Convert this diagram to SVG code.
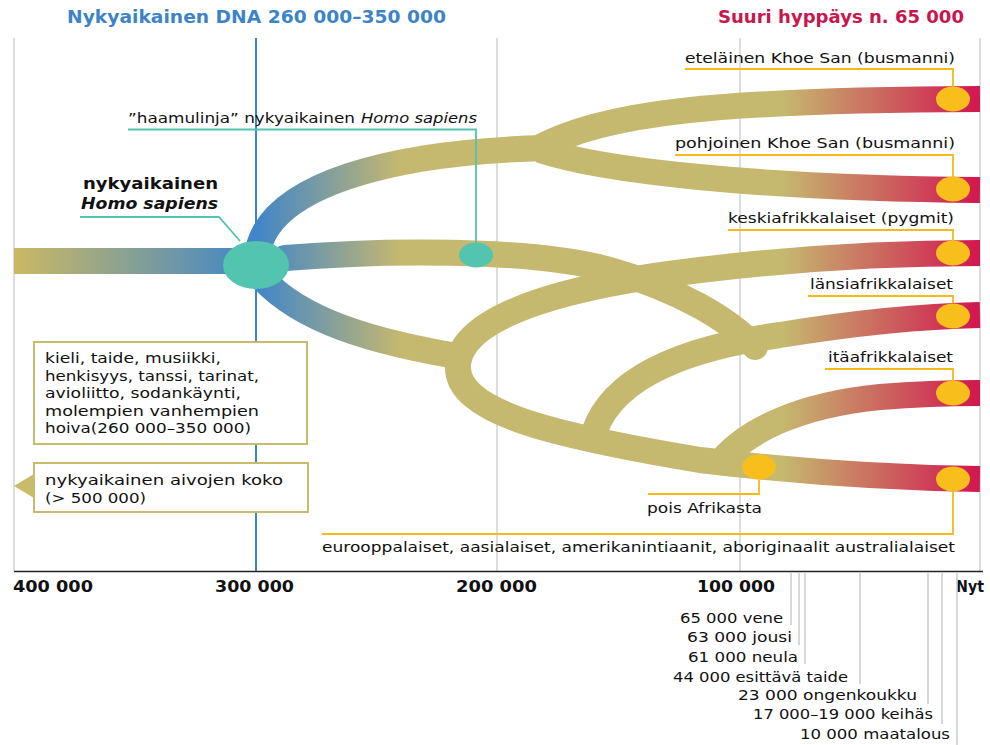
<svg xmlns="http://www.w3.org/2000/svg" width="990" height="745" viewBox="0 0 990 745">
<defs>
<linearGradient id="bandGrad" gradientUnits="userSpaceOnUse" x1="14" y1="0" x2="980" y2="0">
<stop offset="0" stop-color="#cbb963"/>
<stop offset="0.25" stop-color="#3f85c9"/>
<stop offset="0.40" stop-color="#c5b86f"/>
<stop offset="0.796" stop-color="#c5b86f"/>
<stop offset="0.995" stop-color="#d11a50"/>
<stop offset="1" stop-color="#d11a50"/>
</linearGradient>
<style>
.grid{stroke:#d2d2d2;stroke-width:1.5;fill:none}
.tick{stroke:#cbcbcb;stroke-width:1.5;fill:none}
.band{fill:none;stroke:url(#bandGrad);stroke-width:26}
.yl{fill:none;stroke:#f5b91c;stroke-width:1.8}
.tl{fill:none;stroke:#52c4b0;stroke-width:1.8}
.dot{fill:#f8bf1c}
.teal{fill:#52c4b0}
.box{fill:#ffffff;stroke:#c8bb6c;stroke-width:2}
text{font-family:"DejaVu Sans","Open Sans",sans-serif;fill:#111}
.lbl{font-size:14px}
.ax{font-size:15px;font-weight:bold}
.hd{font-size:17px;font-weight:bold}
.tk{font-size:14px}
</style>
</defs>

<g id="frame">
<line class="grid" x1="14" y1="38" x2="14" y2="571"/>
<line class="grid" x1="497" y1="38" x2="497" y2="571"/>
<line class="grid" x1="740" y1="38" x2="740" y2="571"/>
<line class="grid" x1="980" y1="38" x2="980" y2="571"/>
<line x1="256" y1="38" x2="256" y2="571" stroke="#3d84c6" stroke-width="2"/>
<line x1="14" y1="571.5" x2="983" y2="571.5" stroke="#222" stroke-width="1.6"/>
</g>

<g id="headers">
<text class="hd" x="67" y="23" style="fill:#3d84c6" textLength="379" lengthAdjust="spacingAndGlyphs">Nykyaikainen DNA 260 000–350 000</text>
<text class="hd" x="718" y="23" style="fill:#c8174e" textLength="246" lengthAdjust="spacingAndGlyphs">Suuri hyppäys n. 65 000</text>
</g>

<g id="connectors">
<path class="band" d="M14,261 H252"/>
<path class="band" d="M258,250 C272,185 390,152 545,148"/>
<path class="band" d="M535,150 C600,112 720,100 980,99"/>
<path class="band" d="M540,150 C600,170 750,188 980,190"/>
<path class="band" d="M262,278 C300,320 370,342 468,358"/>
<path class="band" d="M980,253 C900,253 800,258 700,270 C580,284 462,312 458,365 C455,412 550,435 700,460 C800,472 900,478 980,479"/>
<path class="band" d="M592,440 C605,385 670,350 780,335 C860,322 930,316 980,315"/>
<path class="band" d="M718,465 C745,430 800,405 880,397 C930,393 960,393 980,393"/>
<path class="band" style="stroke-linecap:round" d="M285,258 C380,250 530,248 610,270 C680,290 730,320 755,347"/>
</g>

<g id="node-origin">
<ellipse class="teal" cx="256" cy="265" rx="33" ry="24"/>
<path class="tl" d="M80,217 H219 L240,241"/>
<text x="218" y="189" text-anchor="end" style="font-size:16px;font-weight:bold" textLength="135" lengthAdjust="spacingAndGlyphs">nykyaikainen</text>
<text x="81" y="209" style="font-size:16px;font-weight:bold;font-style:italic" textLength="137" lengthAdjust="spacingAndGlyphs">Homo sapiens</text>
</g>

<g id="node-ghost">
<ellipse class="teal" cx="476" cy="255" rx="17" ry="12.5"/>
<path class="tl" d="M128,129.5 H476 V244"/>
<text class="lbl" x="128" y="123" textLength="227" lengthAdjust="spacingAndGlyphs">”haamulinja” nykyaikainen</text>
<text class="lbl" x="361" y="123" style="font-style:italic" textLength="116" lengthAdjust="spacingAndGlyphs">Homo sapiens</text>
</g>

<g id="node-etelainen">
<path class="yl" d="M685,69 H953 V87"/>
<ellipse class="dot" cx="953" cy="99" rx="17" ry="12.5"/>
<text class="lbl" x="685" y="63" textLength="270" lengthAdjust="spacingAndGlyphs">eteläinen Khoe San (busmanni)</text>
</g>

<g id="node-pohjoinen">
<path class="yl" d="M675,155 H953 V177"/>
<ellipse class="dot" cx="953" cy="189" rx="17" ry="12.5"/>
<text class="lbl" x="675" y="148" textLength="280" lengthAdjust="spacingAndGlyphs">pohjoinen Khoe San (busmanni)</text>
</g>

<g id="node-keski">
<path class="yl" d="M728,230 H953 V241"/>
<ellipse class="dot" cx="953" cy="253" rx="17" ry="12.5"/>
<text class="lbl" x="728" y="223" textLength="226" lengthAdjust="spacingAndGlyphs">keskiafrikkalaiset (pygmit)</text>
</g>

<g id="node-lansi">
<path class="yl" d="M808,296 H953 V303"/>
<ellipse class="dot" cx="953" cy="316" rx="17" ry="12.5"/>
<text class="lbl" x="810" y="289" textLength="143" lengthAdjust="spacingAndGlyphs">länsiafrikkalaiset</text>
</g>

<g id="node-ita">
<path class="yl" d="M825,369 H953 V381"/>
<ellipse class="dot" cx="953" cy="393" rx="17" ry="12.5"/>
<text class="lbl" x="828" y="362" textLength="125" lengthAdjust="spacingAndGlyphs">itäafrikkalaiset</text>
</g>

<g id="node-pois">
<path class="yl" d="M648,494 H759 V480"/>
<ellipse class="dot" cx="759" cy="467" rx="17" ry="12.5"/>
<text class="lbl" x="647" y="513" textLength="115" lengthAdjust="spacingAndGlyphs">pois Afrikasta</text>
</g>

<g id="node-eurooppa">
<path class="yl" d="M322,534 H953 V491"/>
<ellipse class="dot" cx="953" cy="479" rx="17" ry="12.5"/>
<text class="lbl" x="322" y="552" textLength="633" lengthAdjust="spacingAndGlyphs">eurooppalaiset, aasialaiset, amerikanintiaanit, aboriginaalit australialaiset</text>
</g>

<g id="box-traits">
<rect class="box" x="34" y="342" width="273" height="102"/>
<text class="lbl" x="45" y="363" textLength="176" lengthAdjust="spacingAndGlyphs">kieli, taide, musiikki,</text>
<text class="lbl" x="45" y="380.5" textLength="214" lengthAdjust="spacingAndGlyphs">henkisyys, tanssi, tarinat,</text>
<text class="lbl" x="45" y="398" textLength="196" lengthAdjust="spacingAndGlyphs">avioliitto, sodankäynti,</text>
<text class="lbl" x="45" y="415.5" textLength="214" lengthAdjust="spacingAndGlyphs">molempien vanhempien</text>
<text class="lbl" x="45" y="433" textLength="206" lengthAdjust="spacingAndGlyphs">hoiva(260 000–350 000)</text>
</g>

<g id="box-brain">
<polygon points="14,486 34,474 34,498" fill="#c8bb6c"/>
<rect class="box" x="34" y="463" width="274" height="49"/>
<text class="lbl" x="45" y="485" textLength="238" lengthAdjust="spacingAndGlyphs">nykyaikainen aivojen koko</text>
<text class="lbl" x="45" y="503" textLength="101" lengthAdjust="spacingAndGlyphs">(&gt; 500 000)</text>
</g>

<g id="axis-labels">
<text class="ax" x="13" y="592" textLength="80" lengthAdjust="spacingAndGlyphs">400 000</text>
<text class="ax" x="215" y="592" textLength="79" lengthAdjust="spacingAndGlyphs">300 000</text>
<text class="ax" x="456" y="592" textLength="81" lengthAdjust="spacingAndGlyphs">200 000</text>
<text class="ax" x="697" y="592" textLength="78" lengthAdjust="spacingAndGlyphs">100 000</text>
<text class="ax" x="956" y="592" textLength="28" lengthAdjust="spacingAndGlyphs">Nyt</text>
</g>

<g id="events">
<line class="tick" x1="791" y1="572" x2="791" y2="625"/>
<line class="tick" x1="799" y1="572" x2="799" y2="645"/>
<line class="tick" x1="805" y1="572" x2="805" y2="664"/>
<line class="tick" x1="860" y1="572" x2="860" y2="684"/>
<line class="tick" x1="928" y1="572" x2="928" y2="704"/>
<line class="tick" x1="942" y1="572" x2="942" y2="724"/>
<line class="tick" x1="957" y1="572" x2="957" y2="745"/>
<text class="tk" x="680" y="623" textLength="103" lengthAdjust="spacingAndGlyphs">65 000 vene</text>
<text class="tk" x="687" y="642" textLength="105" lengthAdjust="spacingAndGlyphs">63 000 jousi</text>
<text class="tk" x="688" y="662" textLength="110" lengthAdjust="spacingAndGlyphs">61 000 neula</text>
<text class="tk" x="673" y="682" textLength="175" lengthAdjust="spacingAndGlyphs">44 000 esittävä taide</text>
<text class="tk" x="738" y="700" textLength="179" lengthAdjust="spacingAndGlyphs">23 000 ongenkoukku</text>
<text class="tk" x="753" y="719" textLength="180" lengthAdjust="spacingAndGlyphs">17 000–19 000 keihäs</text>
<text class="tk" x="800" y="739" textLength="150" lengthAdjust="spacingAndGlyphs">10 000 maatalous</text>
</g>
</svg>
